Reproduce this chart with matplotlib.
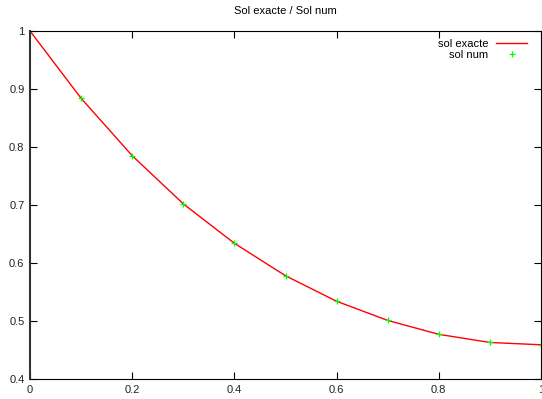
import matplotlib
matplotlib.use("Agg")
import matplotlib.pyplot as plt
from matplotlib.ticker import FuncFormatter

# data (pas h = 0.1)
x_vals = [0.0, 0.1, 0.2, 0.3, 0.4, 0.5, 0.6, 0.7, 0.8, 0.9, 1.0]
y_exacte = [1.0, 0.884, 0.785, 0.702, 0.634, 0.578, 0.534, 0.501, 0.477, 0.463, 0.459]
y_num = [1.0, 0.884, 0.785, 0.702, 0.634, 0.578, 0.534, 0.501, 0.477, 0.463, 0.459]

xticks = [0, 0.2, 0.4, 0.6, 0.8, 1.0]
yticks = [0.4, 0.5, 0.6, 0.7, 0.8, 0.9, 1.0]

plt.rcParams['font.family'] = ['Liberation Sans', 'DejaVu Sans']
plt.rcParams['font.size'] = 8

W, H = 542, 399
fig = plt.figure(figsize=(W / 100, H / 100), dpi=100)
ax = fig.add_axes([30 / W, (H - 379) / H, 511 / W, 348 / H])

ax.plot(x_vals, y_exacte, color='#ff0000', linewidth=1.0, label='sol exacte')
ax.plot(x_vals, y_num, linestyle='none', marker='+', markersize=5,
        markeredgewidth=0.9, color='#00ff00', label='sol num')

ax.set_xlim(0, 1)
ax.set_ylim(0.4, 1)
ax.set_xticks(xticks)
ax.set_yticks(yticks)
fmt = FuncFormatter(lambda v, p: '%g' % v)
ax.xaxis.set_major_formatter(fmt)
ax.yaxis.set_major_formatter(fmt)
ax.tick_params(direction='in', length=5, width=0.8, top=True, right=True,
               colors='black', labelcolor='#222222', pad=4)
for s in ax.spines.values():
    s.set_linewidth(0.8)
ax.spines['left'].set_linewidth(1.5)
ax.spines['left'].set_color('#333333')

ax.set_title('Sol exacte / Sol num', fontsize=8, pad=12)

ax.legend(loc='upper right', bbox_to_anchor=(0.986, 0.997), frameon=False,
          markerfirst=False, handlelength=2.8, handletextpad=0.7,
          labelspacing=0.1, borderaxespad=0.2, fontsize=8)

fig.savefig('out.png', dpi=100)
